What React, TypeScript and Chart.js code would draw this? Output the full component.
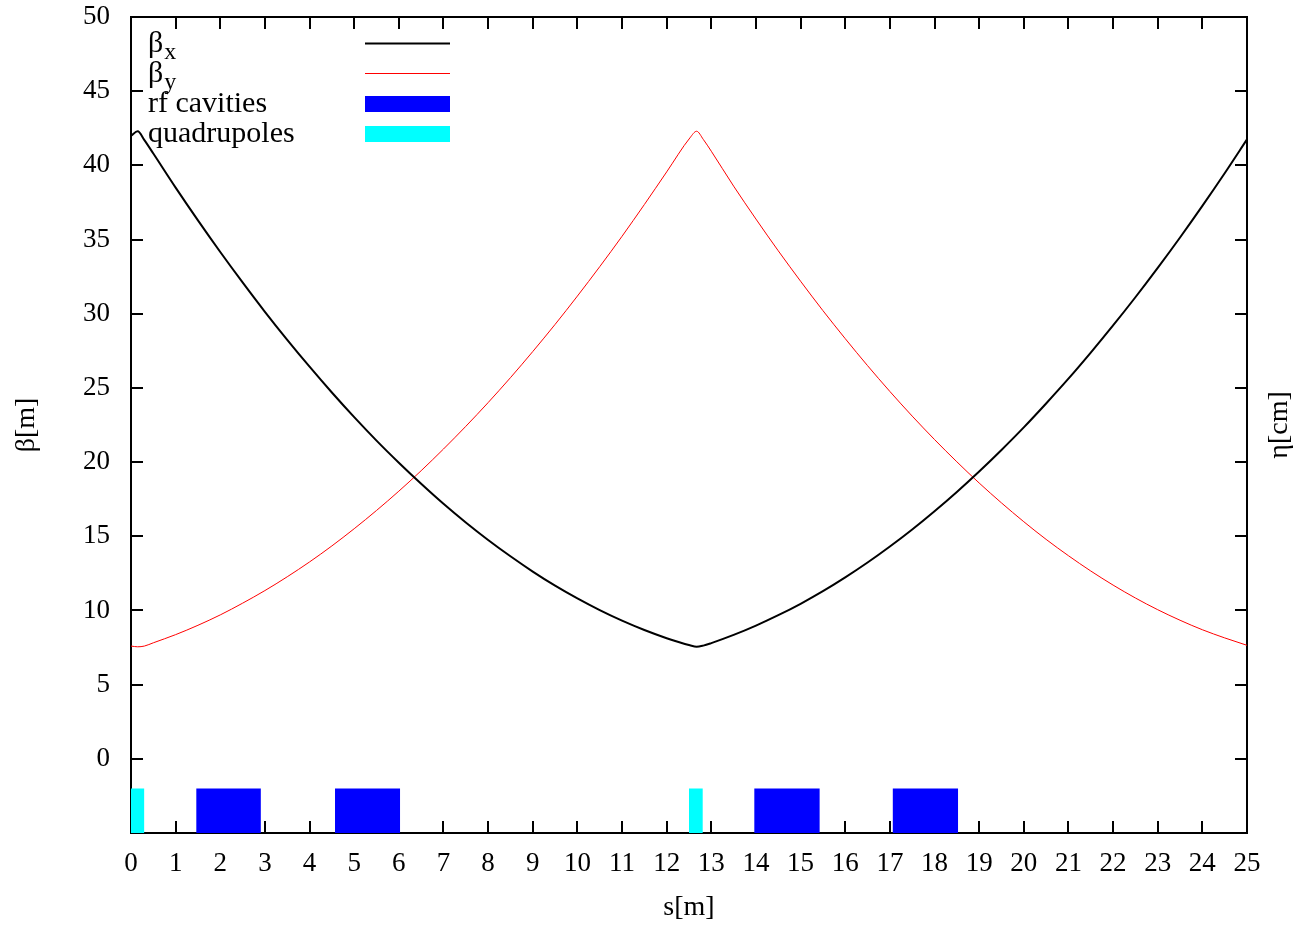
import React, { useEffect, useRef } from 'react';
import { Chart, registerables } from 'chart.js';

Chart.register(...registerables);

// ---- data ----
const sPositions = [
  0, 0.15, 0.3, 0.5, 1, 1.5, 2, 2.5, 3, 3.5, 4, 4.5, 5, 5.5, 6, 6.5, 7, 7.5, 8, 8.5, 9, 9.5, 10,
  10.5, 11, 11.5, 12, 12.52, 12.67, 12.82, 13, 13.5, 14, 14.5, 15, 15.5, 16, 16.5, 17, 17.5, 18,
  18.5, 19, 19.5, 20, 20.5, 21, 21.5, 22, 22.5, 23, 23.5, 24, 24.5, 25,
];
const betaX = [
  42.0, 42.3, 41.7, 40.8, 38.5, 36.29, 34.16, 32.11, 30.13, 28.24, 26.43, 24.69, 23.03, 21.45,
  19.96, 18.54, 17.19, 15.93, 14.75, 13.65, 12.62, 11.67, 10.81, 10.02, 9.31, 8.68, 8.13, 7.65,
  7.55, 7.63, 7.8, 8.35, 8.98, 9.68, 10.45, 11.3, 12.23, 13.23, 14.31, 15.46, 16.69, 17.99, 19.37,
  20.82, 22.34, 23.95, 25.62, 27.38, 29.21, 31.11, 33.09, 35.14, 37.27, 39.47, 41.75,
];
const betaY = [
  7.6, 7.55, 7.6, 7.82, 8.37, 9.0, 9.7, 10.49, 11.34, 12.27, 13.27, 14.35, 15.51, 16.74, 18.04,
  19.42, 20.88, 22.41, 24.01, 25.69, 27.45, 29.28, 31.19, 33.17, 35.22, 37.36, 39.56, 41.85, 42.3,
  41.75, 40.95, 38.6, 36.38, 34.24, 32.19, 30.21, 28.32, 26.5, 24.76, 23.1, 21.52, 20.02, 18.59,
  17.25, 15.98, 14.79, 13.69, 12.66, 11.71, 10.84, 10.05, 9.34, 8.7, 8.15, 7.65,
];
const rfStart = [1.46, 4.57, 13.96, 17.06];
const rfEnd = [2.91, 6.03, 15.43, 18.53];
const quadStart = [0, 12.5];
const quadEnd = [0.3, 12.81];
const elementTop = -2;
const elementBase = -5;

const xMin = 0;
const xMax = 25;
const xStep = 1;
const yMin = -5;
const yMax = 50;
const yStep = 5;

const xTitle = 's[m]';
const yTitle = 'β[m]';
const y2Title = 'η[cm]';
const legendNames = ['β', 'β', 'rf cavities', 'quadrupoles'];
const legendSubs = ['x', 'y', '', ''];

const FONT = '"Liberation Serif", "Times New Roman", serif';
const BLUE = '#0000ff';
const CYAN = '#00ffff';
const RED = '#ff0000';

const blockDataset = (a: number, b: number, color: string) => ({
  type: 'line' as const,
  data: [
    { x: a, y: elementTop },
    { x: b, y: elementTop },
  ],
  borderWidth: 0,
  borderColor: color,
  backgroundColor: color,
  pointRadius: 0,
  fill: { value: elementBase },
  tension: 0,
});

const framePlugin = {
  id: 'frameTicks',
  beforeDraw(chart: any) {
    const { ctx, chartArea } = chart;
    const { left, right, top, bottom } = chartArea;
    const xs = chart.scales.x;
    const ys = chart.scales.y;
    const tl = 12;
    ctx.save();
    ctx.strokeStyle = '#000';
    ctx.lineWidth = 2;
    ctx.beginPath();
    xs.ticks.forEach((t: any) => {
      const px = Math.round(xs.getPixelForValue(t.value));
      ctx.moveTo(px, bottom);
      ctx.lineTo(px, bottom - tl);
      ctx.moveTo(px, top);
      ctx.lineTo(px, top + tl);
    });
    ys.ticks.forEach((t: any) => {
      const py = Math.round(ys.getPixelForValue(t.value));
      ctx.moveTo(left, py);
      ctx.lineTo(left + tl, py);
      ctx.moveTo(right, py);
      ctx.lineTo(right - tl, py);
    });
    ctx.stroke();
    ctx.strokeRect(left, top, right - left, bottom - top);
    ctx.restore();
  },
  afterDraw(chart: any) {
    const { ctx, chartArea } = chart;
    ctx.save();
    // right axis title
    ctx.fillStyle = '#000';
    ctx.font = `28px ${FONT}`;
    ctx.textAlign = 'center';
    ctx.textBaseline = 'middle';
    ctx.translate(1280, (chartArea.top + chartArea.bottom) / 2);
    ctx.rotate(-Math.PI / 2);
    ctx.fillText(y2Title, 0, 0);
    ctx.restore();

    // legend
    ctx.save();
    ctx.fillStyle = '#000';
    ctx.textAlign = 'left';
    ctx.textBaseline = 'alphabetic';
    const baselines = [52, 82, 112, 142];
    const sampleY = [43.5, 73.5, 104, 134];
    const tx = 148;
    legendNames.forEach((name, i) => {
      ctx.font = `30px ${FONT}`;
      ctx.fillText(name, tx, baselines[i]);
      if (legendSubs[i]) {
        const w = ctx.measureText(name).width;
        ctx.font = `24px ${FONT}`;
        ctx.fillText(legendSubs[i], tx + w + 1, baselines[i] + 7);
      }
    });
    const sx0 = 365;
    const sx1 = 450;
    ctx.strokeStyle = '#000';
    ctx.lineWidth = 2;
    ctx.beginPath();
    ctx.moveTo(sx0, sampleY[0]);
    ctx.lineTo(sx1, sampleY[0]);
    ctx.stroke();
    ctx.strokeStyle = RED;
    ctx.lineWidth = 1;
    ctx.beginPath();
    ctx.moveTo(sx0, sampleY[1]);
    ctx.lineTo(sx1, sampleY[1]);
    ctx.stroke();
    ctx.fillStyle = BLUE;
    ctx.fillRect(sx0, sampleY[2] - 8, sx1 - sx0, 16);
    ctx.fillStyle = CYAN;
    ctx.fillRect(sx0, sampleY[3] - 8, sx1 - sx0, 16);
    ctx.restore();
  },
};

export default function App() {
  const ref = useRef<HTMLCanvasElement>(null);

  useEffect(() => {
    const curve = (ys: number[]) => sPositions.map((s, i) => ({ x: s, y: ys[i] }));
    const datasets: any[] = [
      {
        type: 'line',
        label: 'βx',
        data: curve(betaX),
        borderColor: '#000',
        borderWidth: 2,
        pointRadius: 0,
        fill: false,
        cubicInterpolationMode: 'monotone',
      },
      {
        type: 'line',
        label: 'βy',
        data: curve(betaY),
        borderColor: RED,
        borderWidth: 1,
        pointRadius: 0,
        fill: false,
        cubicInterpolationMode: 'monotone',
      },
      ...rfStart.map((a, i) => blockDataset(a, rfEnd[i], BLUE)),
      ...quadStart.map((a, i) => blockDataset(a, quadEnd[i], CYAN)),
    ];

    const chart = new Chart(ref.current as HTMLCanvasElement, {
      type: 'line',
      data: { datasets },
      options: {
        animation: false,
        responsive: false,
        devicePixelRatio: 1,
        layout: { padding: { top: 17, right: 52, left: 0, bottom: 0 } },
        plugins: {
          legend: { display: false },
          tooltip: { enabled: false },
        },
        scales: {
          x: {
            type: 'linear',
            min: xMin,
            max: xMax,
            grid: { display: false, drawTicks: false },
            border: { display: false },
            ticks: {
              stepSize: xStep,
              autoSkip: false,
              maxRotation: 0,
              padding: 15,
              color: '#000',
              font: { family: FONT, size: 27 },
            },
            title: {
              display: true,
              text: xTitle,
              color: '#000',
              font: { family: FONT, size: 28 },
              padding: { top: 0, bottom: 4 },
            },
            afterFit: (scale: any) => {
              scale.height = 95;
              scale.paddingLeft = 0;
              scale.paddingRight = 0;
            },
          },
          y: {
            type: 'linear',
            min: yMin,
            max: yMax,
            grid: { display: false, drawTicks: false },
            border: { display: false },
            ticks: {
              stepSize: yStep,
              padding: 21,
              color: '#000',
              font: { family: FONT, size: 27 },
              callback: (v: any) => (Number(v) < 0 ? '' : String(v)),
            },
            title: {
              display: true,
              text: yTitle,
              color: '#000',
              font: { family: FONT, size: 28 },
              padding: { top: 10, bottom: 0 },
            },
            afterFit: (scale: any) => {
              scale.width = 131;
              scale.paddingTop = 0;
              scale.paddingBottom = 0;
            },
          },
        },
      },
      plugins: [framePlugin],
    } as any);
    return () => chart.destroy();
  }, []);

  return (
    <div style={{ position: 'fixed', left: 0, top: 0, width: 1299, height: 928, background: '#fff' }}>
      <canvas ref={ref} width={1299} height={928} style={{ display: 'block', width: 1299, height: 928 }} />
    </div>
  );
}
